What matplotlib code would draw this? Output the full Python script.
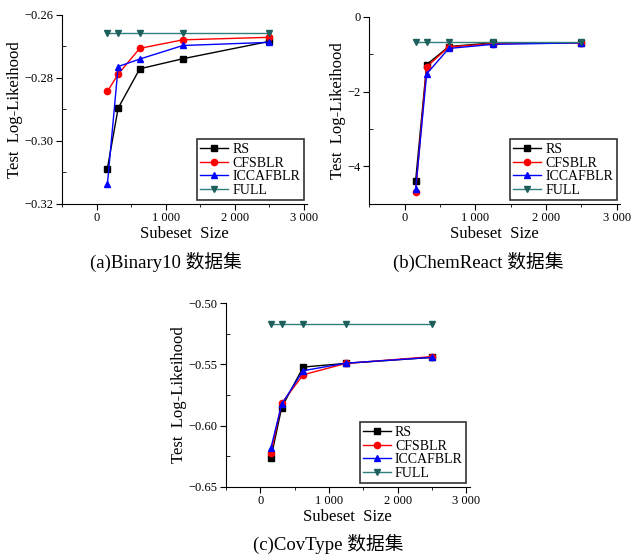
import matplotlib.pyplot as plt
from matplotlib.ticker import MultipleLocator, FuncFormatter

plt.rcParams['font.family'] = ['Liberation Serif', 'Noto Sans CJK SC']
plt.rcParams['axes.unicode_minus'] = True

# subset sizes shared by all panels
sizes = [156, 312, 625, 1250, 2500]

# (a) Binary10
binary_rs = [-0.3088, -0.2896, -0.2771, -0.2739, -0.2684]
binary_cfs = [-0.2843, -0.2788, -0.2706, -0.2679, -0.2671]
binary_icca = [-0.3138, -0.2764, -0.2740, -0.2697, -0.2687]
binary_full = [-0.2658] * 5

# (b) ChemReact
chem_rs = [-4.38, -1.28, -0.80, -0.70, -0.70]
chem_cfs = [-4.67, -1.34, -0.81, -0.72, -0.70]
chem_icca = [-4.61, -1.53, -0.85, -0.74, -0.70]
chem_full = [-0.68] * 5

# (c) CovType
cov_rs = [-0.6262, -0.5852, -0.5522, -0.5492, -0.5443]
cov_cfs = [-0.6221, -0.5817, -0.5585, -0.5492, -0.5437]
cov_icca = [-0.6180, -0.5825, -0.5552, -0.5490, -0.5443]
cov_full = [-0.5169] * 5

series_names = ['RS', 'CFSBLR', 'ICCAFBLR', 'FULL']
series_styles = [
    dict(color='black', marker='s'),
    dict(color='red', marker='o'),
    dict(color='blue', marker='^'),
    dict(color='#2f7f7c', marker='v', markerfacecolor='#1d5f5c', markeredgecolor='#1d5f5c'),
]


def thousands(v, pos):
    v = int(round(v))
    if abs(v) >= 1000:
        return f"{v // 1000} {v % 1000:03d}"
    return str(v)


def draw_panel(ax, data, ylim, ymajor, yfmt):
    for values, name, style in zip(data, series_names, series_styles):
        ax.plot(sizes, values, label=name, linewidth=1.0, markersize=4.5, **style)
    ax.set_xlim(-500, 3050)
    ax.set_ylim(*ylim)
    ax.xaxis.set_major_locator(MultipleLocator(1000))
    ax.xaxis.set_minor_locator(MultipleLocator(500))
    ax.xaxis.set_major_formatter(FuncFormatter(thousands))
    ax.yaxis.set_major_locator(MultipleLocator(ymajor))
    ax.yaxis.set_minor_locator(MultipleLocator(ymajor / 2))
    ax.yaxis.set_major_formatter(FuncFormatter(lambda v, p: yfmt.format(v).replace('-', '\u2212')))
    for side in ['top', 'right']:
        ax.spines[side].set_visible(False)
    ax.tick_params(which='major', direction='out', length=4, labelsize=9, pad=2)
    ax.tick_params(axis='y', which='minor', direction='in', length=3)
    ax.tick_params(axis='x', which='minor', direction='out', length=2.5)
    ax.set_xlabel('Subeset  Size', fontsize=12, labelpad=1)
    ax.set_ylabel('Test  Log-Likeihood', fontsize=12, labelpad=1)
    leg = ax.legend(loc='lower right', fontsize=10, frameon=True, fancybox=False,
                    borderpad=0.25, labelspacing=0.05, handlelength=2.0,
                    handletextpad=0.3, borderaxespad=0.25)
    leg.get_frame().set_edgecolor('black')
    leg.get_frame().set_linewidth(1.2)


fig = plt.figure(figsize=(6.4, 5.54), dpi=100)
ax_a = fig.add_axes([0.097, 0.632, 0.383, 0.341])
ax_b = fig.add_axes([0.577, 0.632, 0.392, 0.338])
ax_c = fig.add_axes([0.353, 0.121, 0.381, 0.332])

draw_panel(ax_a, [binary_rs, binary_cfs, binary_icca, binary_full], (-0.32, -0.26), 0.02, '{:.2f}')
draw_panel(ax_b, [chem_rs, chem_cfs, chem_icca, chem_full], (-5, 0), 2, '{:.0f}')
draw_panel(ax_c, [cov_rs, cov_cfs, cov_icca, cov_full], (-0.65, -0.50), 0.05, '{:.2f}')

# panel captions
captions = ['(a)Binary10 数据集', '(b)ChemReact 数据集', '(c)CovType 数据集']
caption_xy = [(166, 262), (478, 262), (328, 544)]
for text, (cx, cy) in zip(captions, caption_xy):
    fig.text(cx / 640, 1 - cy / 554, text, ha='center', va='center', fontsize=13.5)

fig.savefig('out.png', dpi=100)
